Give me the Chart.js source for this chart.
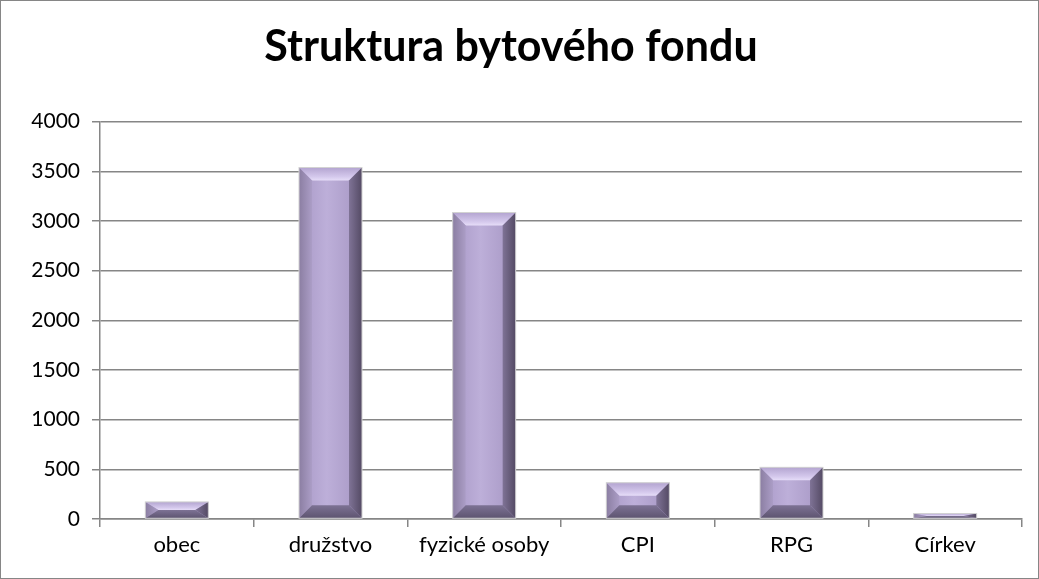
<!DOCTYPE html>
<html>
<head>
<meta charset="utf-8">
<script src="https://cdn.jsdelivr.net/npm/chart.js@4"></script>
<style>
    body { margin: 0; background: #fff; }
    #box { width: 1039px; height: 579px; position: relative; }
</style>
</head>
<body>
<div id="box"><canvas id="graf"></canvas></div>
<script>
const kategorie = ['obec', 'družstvo', 'fyzické osoby', 'CPI', 'RPG', 'Církev'];
const pocetBytu = [172, 3538, 3085, 365, 520, 55];
const osaY = [0, 500, 1000, 1500, 2000, 2500, 3000, 3500, 4000];

const pismo = 'Lato, "Open Sans", sans-serif';

function lichobeznik(ctx, body, barva) {
    ctx.fillStyle = barva;
    ctx.beginPath();
    ctx.moveTo(body[0][0], body[0][1]);
    for (let i = 1; i < body.length; i++) ctx.lineTo(body[i][0], body[i][1]);
    ctx.closePath();
    ctx.fill();
}

// zkosene hrany sloupcu (jako v Excelu)
const zkoseni = {
    id: 'zkoseni',
    afterDatasetsDraw(chart) {
        const ctx = chart.ctx;
        chart.getDatasetMeta(0).data.forEach(bar => {
            const l = bar.x - bar.width / 2, r = bar.x + bar.width / 2;
            const t = bar.y, b = bar.base;
            const h = b - t;
            const s = Math.min(13, h / 2);
            const sx = Math.min(13, bar.width / 2);
            ctx.save();
            // stred
            const g = ctx.createLinearGradient(l + sx, 0, r - sx, 0);
            g.addColorStop(0, '#b2a3cf');
            g.addColorStop(0.4, '#bdafd9');
            g.addColorStop(1, '#ae9fcb');
            ctx.fillStyle = g;
            ctx.fillRect(l, t, r - l, h);
            // horni hrana
            const gt = ctx.createLinearGradient(0, t, 0, t + s);
            gt.addColorStop(0, '#b3a4d0');
            gt.addColorStop(0.7, '#d4c8ec');
            gt.addColorStop(1, '#e6ddf8');
            lichobeznik(ctx, [[l, t], [r, t], [r - sx, t + s], [l + sx, t + s]], gt);
            // leva hrana
            const gl = ctx.createLinearGradient(l, 0, l + sx, 0);
            gl.addColorStop(0, '#8b7ea2');
            gl.addColorStop(1, '#ab9dc6');
            lichobeznik(ctx, [[l, t], [l + sx, t + s], [l + sx, b - s], [l, b]], gl);
            // prava hrana
            const gr = ctx.createLinearGradient(r - sx, 0, r, 0);
            gr.addColorStop(0, '#7f7396');
            gr.addColorStop(1, '#544a64');
            lichobeznik(ctx, [[r, t], [r - sx, t + s], [r - sx, b - s], [r, b]], gr);
            // spodni hrana
            const gb = ctx.createLinearGradient(0, b - s, 0, b);
            gb.addColorStop(0, '#7d7294');
            gb.addColorStop(1, '#5d5470');
            lichobeznik(ctx, [[l, b], [r, b], [r - sx, b - s], [l + sx, b - s]], gb);
            ctx.strokeStyle = '#d2d2d2';
            ctx.lineWidth = 1;
            ctx.strokeRect(l, t, r - l, h);
            ctx.restore();
        });
    }
};

const ramecek = {
    id: 'ramecek',
    afterDraw(chart) {
        const ctx = chart.ctx;
        ctx.save();
        ctx.strokeStyle = '#868686';
        ctx.lineWidth = 1;
        ctx.strokeRect(0.5, 0.5, chart.width - 1, chart.height - 1);
        ctx.restore();
    }
};

new Chart(document.getElementById('graf'), {
    type: 'bar',
    data: {
        labels: kategorie,
        datasets: [{
            label: 'Počet bytů',
            data: pocetBytu,
            backgroundColor: 'rgba(0,0,0,0)',
            barPercentage: 0.41,
            categoryPercentage: 1
        }]
    },
    options: {
        responsive: true,
        maintainAspectRatio: false,
        animation: false,
        layout: { padding: { left: 0, right: 17, top: 0, bottom: 0 } },
        plugins: {
            legend: { display: false },
            tooltip: { enabled: false },
            title: {
                display: true,
                text: 'Struktura bytového fondu',
                color: '#000',
                font: { family: pismo, size: 43, weight: 'bold', lineHeight: 1.2 },
                padding: { top: 21, bottom: 49 }
            }
        },
        scales: {
            x: {
                afterFit(axis) { axis.height = 60; },
                grid: {
                    display: true,
                    drawOnChartArea: false,
                    offset: true,
                    color: '#868686',
                    lineWidth: 1.5,
                    tickLength: 8
                },
                border: { color: '#868686', width: 1.5 },
                ticks: { color: '#000', font: { family: pismo, size: 22 }, padding: 5 }
            },
            y: {
                min: 0,
                max: 4000,
                afterFit(axis) { axis.width = 100; },
                afterBuildTicks(axis) { axis.ticks = osaY.map(v => ({ value: v })); },
                grid: { color: '#868686', lineWidth: 1.5, tickLength: 8 },
                border: { color: '#868686', width: 1.5 },
                ticks: {
                    color: '#000',
                    font: { family: pismo, size: 21 },
                    padding: 12,
                    callback: v => String(v)
                }
            }
        }
    },
    plugins: [zkoseni, ramecek]
});
</script>
</body>
</html>
